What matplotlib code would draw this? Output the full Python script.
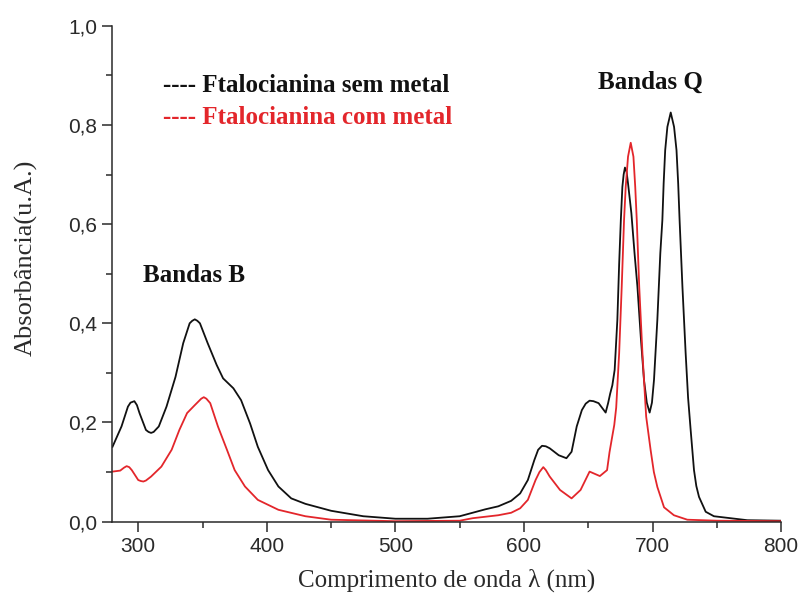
import matplotlib
matplotlib.use("Agg")
import matplotlib.pyplot as plt
from matplotlib.ticker import MultipleLocator, FuncFormatter

# ---- data ----
wl_sem = [280, 287, 292, 294, 297, 299, 301, 306, 308, 310, 312, 316, 322, 329, 335,
          340, 342, 344, 346, 348, 354, 361, 366, 374, 380, 387, 393, 401, 409, 419,
          430, 450, 475, 500, 525, 550, 560, 570, 580, 590, 597, 603, 608, 611, 614,
          617, 620, 627, 633, 637, 641, 645, 648, 651, 654, 658, 663.5, 665.4, 667,
          668.7, 670.5, 672.6, 674, 675.3, 676.5, 677.5, 678.5, 679.8, 680.9, 683.5,
          686, 688.2, 690.8, 693.3, 695.5, 697.7, 699.5, 701.1, 703.7, 706, 707.6,
          708.6, 709.8, 711.5, 714.1, 716.7, 718.6, 719.9, 721, 723.2, 725.7, 727.6,
          729.6, 732.2, 734, 736.1, 741.3, 747.7, 760.7, 773.7, 800]
abs_sem = [0.151, 0.192, 0.232, 0.240, 0.243, 0.235, 0.219, 0.185, 0.181, 0.179, 0.181,
           0.192, 0.232, 0.292, 0.360, 0.400, 0.405, 0.408, 0.405, 0.400, 0.360, 0.316,
           0.289, 0.269, 0.245, 0.198, 0.151, 0.104, 0.071, 0.047, 0.036, 0.022, 0.011,
           0.006, 0.006, 0.011, 0.018, 0.025, 0.031, 0.042, 0.057, 0.084, 0.124, 0.145,
           0.153, 0.152, 0.148, 0.134, 0.128, 0.141, 0.192, 0.225, 0.238, 0.244, 0.243,
           0.239, 0.220, 0.239, 0.258, 0.275, 0.306, 0.407, 0.520, 0.608, 0.675, 0.700,
           0.714, 0.705, 0.682, 0.622, 0.540, 0.474, 0.373, 0.286, 0.240, 0.220, 0.240,
           0.286, 0.407, 0.541, 0.608, 0.682, 0.749, 0.796, 0.825, 0.796, 0.749, 0.682,
           0.608, 0.474, 0.340, 0.250, 0.185, 0.104, 0.072, 0.050, 0.020, 0.011, 0.007,
           0.003, 0.002]

wl_com = [280, 286, 289, 291, 293, 295, 300, 302, 304, 306, 310, 318, 326, 332, 338,
          344, 349, 351, 353, 356, 362, 369, 375, 383, 393, 409, 430, 450, 500, 550,
          560, 570, 580, 590, 597, 603, 609, 612, 615, 617, 620, 628, 637, 644, 651,
          659, 664.6, 666.5, 668.5, 670.2, 671.7, 674, 676, 677.8, 679.1, 680.9, 683,
          685.1, 686.5, 687.7, 689.6, 692.1, 695, 698.5, 701, 703.7, 708.9, 716.6, 727,
          750, 800]
abs_com = [0.101, 0.103, 0.109, 0.112, 0.110, 0.104, 0.084, 0.082, 0.081, 0.083, 0.091,
           0.111, 0.145, 0.185, 0.219, 0.235, 0.248, 0.251, 0.248, 0.239, 0.192, 0.145,
           0.104, 0.071, 0.044, 0.024, 0.011, 0.004, 0.001, 0.002, 0.007, 0.010, 0.013,
           0.018, 0.027, 0.044, 0.084, 0.100, 0.110, 0.104, 0.091, 0.064, 0.047, 0.064,
           0.101, 0.092, 0.104, 0.140, 0.170, 0.195, 0.230, 0.340, 0.474, 0.608, 0.675,
           0.736, 0.764, 0.736, 0.675, 0.608, 0.474, 0.340, 0.212, 0.144, 0.100, 0.070,
           0.029, 0.013, 0.004, 0.002, 0.001]

x_ticks = [300, 400, 500, 600, 700, 800]
y_ticks = [0.0, 0.2, 0.4, 0.6, 0.8, 1.0]

legend_sem = "---- Ftalocianina sem metal"
legend_com = "---- Ftalocianina com metal"
label_B = "Bandas B"
label_Q = "Bandas Q"
xlabel = "Comprimento de onda λ (nm)"
ylabel = "Absorbância(u.A.)"

BLACK = "#111111"
RED = "#e3262b"
AXC = "#2a2a2a"

fig = plt.figure(figsize=(7.99, 6.02), dpi=100)
ax = fig.add_axes([0.1408, 0.1334, 0.8369, 0.8239])

ax.plot(wl_sem, abs_sem, color=BLACK, lw=1.3, solid_joinstyle="round")
ax.plot(wl_com, abs_com, color=RED, lw=1.3, solid_joinstyle="round")

ax.set_xlim(280, 800)
ax.set_ylim(0, 1.0)
ax.set_xticks(x_ticks)
ax.set_yticks(y_ticks)
ax.xaxis.set_minor_locator(MultipleLocator(50))
ax.yaxis.set_minor_locator(MultipleLocator(0.1))
ax.yaxis.set_major_formatter(FuncFormatter(lambda v, p: f"{v:.1f}".replace(".", ",")))

for s in ["top", "right"]:
    ax.spines[s].set_visible(False)
for s in ["left", "bottom"]:
    ax.spines[s].set_linewidth(1.1)
    ax.spines[s].set_color(AXC)

ax.tick_params(which="major", direction="out", length=7, width=1.1, colors=AXC,
               labelsize=15, pad=4)
ax.tick_params(which="minor", direction="out", length=4, width=1.1, colors=AXC)
for lab in ax.get_xticklabels() + ax.get_yticklabels():
    lab.set_family(["Liberation Sans", "DejaVu Sans"])
    lab.set_color(AXC)

ax.set_xlabel(xlabel, fontsize=18, family=["Liberation Serif", "DejaVu Serif"],
              color=AXC, va="center")
ax.set_ylabel(ylabel, fontsize=19, family=["Liberation Serif", "DejaVu Serif"],
              color=AXC, va="center")
ax.xaxis.set_label_coords(0.5, -0.1175)
ax.yaxis.set_label_coords(-0.129, 0.532)

bold_serif = dict(family=["Liberation Serif", "DejaVu Serif"], fontweight="bold",
                  fontsize=18, va="center", ha="left")
ax.text(319.3, 0.880, legend_sem, color=BLACK, **bold_serif)
ax.text(319.3, 0.815, legend_com, color=RED, **bold_serif)
ax.text(303.5, 0.497, label_B, color=BLACK, **bold_serif)
ax.text(657.5, 0.886, label_Q, color=BLACK, **bold_serif)

fig.savefig("out.png", dpi=100)
